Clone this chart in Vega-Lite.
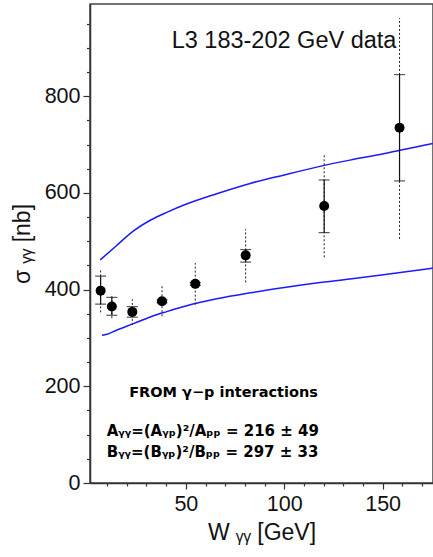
{
  "$schema": "https://vega.github.io/schema/vega-lite/v6.json",
  "autosize": {"type": "none"},
  "padding": {"left": 90, "top": 4, "right": 0, "bottom": 74},
  "width": 343,
  "height": 479,
  "config": {
    "font": "Liberation Sans",
    "view": {"stroke": "#444", "strokeWidth": 1.5},
    "axis": {"grid": false, "labelFont": "Liberation Sans", "titleFont": "Liberation Sans", "labelColor": "#111", "titleColor": "#111", "domainColor": "#333", "domainWidth": 1.5, "tickColor": "#333", "tickWidth": 1.2, "labelFontSize": 21.5, "titleFontSize": 23, "titleFontWeight": "normal"}
  },
  "datasets": {
    "points": [
      {"W": 6.7, "sigma": 398, "statLo": 370, "statHi": 428, "sysLo": 353, "sysHi": 443},
      {"W": 12.4, "sigma": 365, "statLo": 347, "statHi": 384, "sysLo": 341, "sysHi": 391},
      {"W": 22.8, "sigma": 354, "statLo": 343, "statHi": 365, "sysLo": 327, "sysHi": 380},
      {"W": 37.9, "sigma": 376, "statLo": 373, "statHi": 379, "sysLo": 345, "sysHi": 409},
      {"W": 54.8, "sigma": 412, "statLo": 409, "statHi": 415, "sysLo": 369, "sysHi": 455},
      {"W": 80.4, "sigma": 471, "statLo": 457, "statHi": 483, "sysLo": 415, "sysHi": 525},
      {"W": 120.3, "sigma": 573, "statLo": 518, "statHi": 627, "sysLo": 467, "sysHi": 679},
      {"W": 158.6, "sigma": 735, "statLo": 625, "statHi": 845, "sysLo": 505, "sysHi": 962}
    ],
    "curves": [
      {"series": "upper", "W": 6.5, "sigma": 461.5},
      {"series": "upper", "W": 15, "sigma": 492},
      {"series": "upper", "W": 23.4, "sigma": 521.6},
      {"series": "upper", "W": 31.9, "sigma": 543.6},
      {"series": "upper", "W": 40.3, "sigma": 560},
      {"series": "upper", "W": 50, "sigma": 576.6},
      {"series": "upper", "W": 65.7, "sigma": 598.5},
      {"series": "upper", "W": 82.7, "sigma": 619.8},
      {"series": "upper", "W": 100, "sigma": 637.4},
      {"series": "upper", "W": 116.5, "sigma": 653.5},
      {"series": "upper", "W": 133.4, "sigma": 668},
      {"series": "upper", "W": 150.4, "sigma": 681},
      {"series": "upper", "W": 158.8, "sigma": 688.6},
      {"series": "upper", "W": 175.5, "sigma": 702.6},
      {"series": "lower", "W": 7.4, "sigma": 305.5},
      {"series": "lower", "W": 9.9, "sigma": 307.7},
      {"series": "lower", "W": 15, "sigma": 316.5},
      {"series": "lower", "W": 23.4, "sigma": 329.7},
      {"series": "lower", "W": 31.9, "sigma": 343.6},
      {"series": "lower", "W": 40.3, "sigma": 354.6},
      {"series": "lower", "W": 50, "sigma": 366.3},
      {"series": "lower", "W": 65.7, "sigma": 381},
      {"series": "lower", "W": 82.7, "sigma": 393.4},
      {"series": "lower", "W": 100, "sigma": 404.4},
      {"series": "lower", "W": 116.5, "sigma": 414},
      {"series": "lower", "W": 133.4, "sigma": 422},
      {"series": "lower", "W": 150.4, "sigma": 430.8},
      {"series": "lower", "W": 175.5, "sigma": 444.7}
    ]
  },
  "encoding": {
    "x": {
      "field": "W", "type": "quantitative",
      "scale": {"domain": [1.3, 175.6], "nice": false, "zero": false},
      "axis": {
        "title": "W ᵧᵧ [GeV]",
        "values": [10, 20, 30, 40, 50, 60, 70, 80, 90, 100, 110, 120, 130, 140, 150, 160, 170],
        "labelExpr": "datum.value % 50 === 0 ? datum.label : ''",
        "tickSize": {"condition": {"test": "datum.value % 50 === 0", "value": 6}, "value": 3},
        "labelPadding": 4,
        "titlePadding": 7
      }
    },
    "y": {
      "field": "sigma", "type": "quantitative",
      "scale": {"domain": [0, 991], "nice": false},
      "axis": {
        "title": "σ ᵧᵧ [nb]",
        "values": [0, 50, 100, 150, 200, 250, 300, 350, 400, 450, 500, 550, 600, 650, 700, 750, 800, 850, 900, 950],
        "labelExpr": "datum.value % 200 === 0 ? datum.label : ''",
        "tickSize": {"condition": {"test": "datum.value % 200 === 0", "value": 7}, "value": 3.5},
        "labelPadding": 3,
        "titlePadding": 10
      }
    }
  },
  "layer": [
    {
      "data": {"name": "curves"},
      "mark": {"type": "line", "color": "#1a1aff", "strokeWidth": 1.5, "interpolate": "monotone"},
      "encoding": {"detail": {"field": "series"}}
    },
    {
      "data": {"name": "points"},
      "mark": {"type": "rule", "color": "#222", "strokeWidth": 1, "strokeDash": [2, 2]},
      "encoding": {"y": {"field": "sysLo", "type": "quantitative"}, "y2": {"field": "sysHi"}}
    },
    {
      "data": {"name": "points"},
      "mark": {"type": "rule", "color": "#111", "strokeWidth": 1.2},
      "encoding": {"y": {"field": "statLo", "type": "quantitative"}, "y2": {"field": "statHi"}}
    },
    {
      "data": {"name": "points"},
      "mark": {"type": "tick", "orient": "horizontal", "color": "#111", "size": 11, "thickness": 1.2},
      "encoding": {"y": {"field": "statLo", "type": "quantitative"}}
    },
    {
      "data": {"name": "points"},
      "mark": {"type": "tick", "orient": "horizontal", "color": "#111", "size": 11, "thickness": 1.2},
      "encoding": {"y": {"field": "statHi", "type": "quantitative"}}
    },
    {
      "data": {"name": "points"},
      "mark": {"type": "circle", "color": "#000", "opacity": 1, "size": 100}
    },
    {
      "data": {"values": [{"W": 157, "sigma": 900, "label": "L3 183-202 GeV data"}]},
      "mark": {"type": "text", "align": "right", "baseline": "alphabetic", "fontSize": 23.5, "font": "Liberation Sans", "color": "#111"},
      "encoding": {"text": {"field": "label"}}
    },
    {
      "data": {"values": [{"W": 21.2, "sigma": 178, "label": "FROM γ−p interactions"}]},
      "mark": {"type": "text", "align": "left", "baseline": "alphabetic", "fontSize": 14.5, "fontWeight": "bold", "font": "DejaVu Sans", "color": "#000"},
      "encoding": {"text": {"field": "label"}}
    },
    {
      "data": {"values": [
        {"W": 9.8, "sigma": 98, "label": "Aᵧᵧ=(Aᵧₚ)²/Aₚₚ = 216 ± 49"},
        {"W": 9.8, "sigma": 54, "label": "Bᵧᵧ=(Bᵧₚ)²/Bₚₚ = 297 ± 33"}
      ]},
      "mark": {"type": "text", "align": "left", "baseline": "alphabetic", "fontSize": 15, "fontWeight": "bold", "font": "DejaVu Sans", "color": "#000"},
      "encoding": {"text": {"field": "label"}}
    }
  ]
}
